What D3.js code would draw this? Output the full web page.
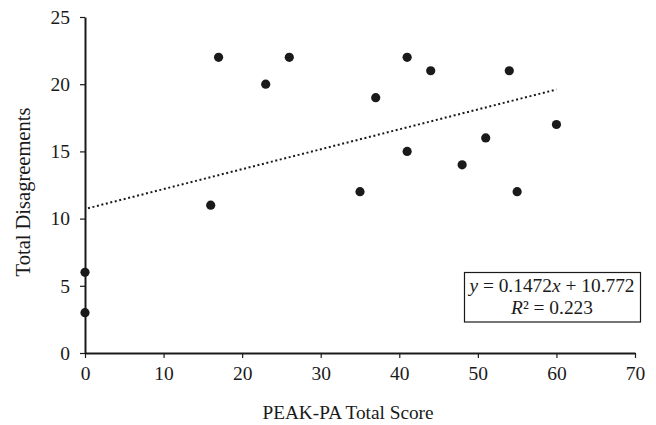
<!DOCTYPE html>
<html>
<head>
<meta charset="utf-8">
<script src="https://cdn.jsdelivr.net/npm/d3@7"></script>
<style>
  html, body { margin: 0; padding: 0; background: #fff; }
  svg { display: block; font-family: "Liberation Serif", "Times New Roman", serif; }
</style>
</head>
<body>
<script>
// Data
const peakScores = [0, 0, 16, 17, 23, 26, 35, 37, 41, 41, 44, 48, 51, 54, 55, 60];
const disagreements = [3, 6, 11, 22, 20, 22, 12, 19, 22, 15, 21, 14, 16, 21, 12, 17];
const xTicks = [0, 10, 20, 30, 40, 50, 60, 70];
const yTicks = [0, 5, 10, 15, 20, 25];
const slope = 0.1472, intercept = 10.772;
const trendRange = [0, 60];
const eqLine1 = ["y", " = 0.1472", "x", " + 10.772"];
const eqLine2 = ["R", "² = 0.223"];
const xTitle = "PEAK-PA Total Score";
const yTitle = "Total Disagreements";

const W = 656, H = 425;
const margin = { left: 85, right: 21, top: 17, bottom: 72 };
const svg = d3.select("body").append("svg").attr("width", W).attr("height", H);

const x = d3.scaleLinear().domain([0, 70]).range([margin.left, W - margin.right]);
const y = d3.scaleLinear().domain([0, 25]).range([H - margin.bottom, margin.top]);

const ink = "#1a1a1a";
const tickFs = 19.5;

// Axes
const xAxis = svg.append("g").attr("transform", `translate(0,${y(0)})`)
  .call(d3.axisBottom(x).tickValues(xTicks).tickSize(5).tickPadding(8).tickSizeOuter(0));
const yAxis = svg.append("g").attr("transform", `translate(${x(0)},0)`)
  .call(d3.axisLeft(y).tickValues(yTicks).tickSize(5).tickPadding(10).tickSizeOuter(0));
[xAxis, yAxis].forEach(g => {
  g.select(".domain").attr("stroke", ink).attr("stroke-width", 2);
  g.selectAll(".tick line").attr("stroke", ink).attr("stroke-width", 1.2);
  g.selectAll(".tick text").attr("fill", ink).attr("font-size", tickFs)
    .attr("font-family", "Liberation Serif, Times New Roman, serif");
});

// Trendline
svg.append("line")
  .attr("x1", x(trendRange[0]) + 3).attr("y1", y(intercept + slope * trendRange[0]))
  .attr("x2", x(trendRange[1])).attr("y2", y(intercept + slope * trendRange[1]))
  .attr("stroke", ink).attr("stroke-width", 2).attr("stroke-dasharray", "2,2.6");

// Points
svg.append("g").selectAll("circle")
  .data(peakScores.map((d, i) => [d, disagreements[i]]))
  .join("circle")
  .attr("cx", d => x(d[0])).attr("cy", d => y(d[1])).attr("r", 4.6)
  .attr("fill", ink);

// Axis titles
svg.append("text").attr("x", 348).attr("y", 419).attr("text-anchor", "middle")
  .attr("font-size", 19.3).attr("fill", ink).text(xTitle);
svg.append("text").attr("transform", `translate(30,${192}) rotate(-90)`)
  .attr("text-anchor", "middle").attr("font-size", 20.5).attr("fill", ink).text(yTitle);

// Equation box
const box = svg.append("g");
box.append("rect").attr("x", 464.5).attr("y", 272.5).attr("width", 176).attr("height", 49.5)
  .attr("fill", "#fff").attr("stroke", ink).attr("stroke-width", 1.2);
const t1 = box.append("text").attr("x", 552).attr("y", 292).attr("text-anchor", "middle")
  .attr("font-size", 19.4).attr("fill", ink);
eqLine1.forEach((s, i) => t1.append("tspan").attr("font-style", i % 2 === 0 ? "italic" : "normal").text(s));
const t2 = box.append("text").attr("x", 552).attr("y", 314).attr("text-anchor", "middle")
  .attr("font-size", 19.4).attr("fill", ink);
eqLine2.forEach((s, i) => t2.append("tspan").attr("font-style", i === 0 ? "italic" : "normal").text(s));
</script>
</body>
</html>
